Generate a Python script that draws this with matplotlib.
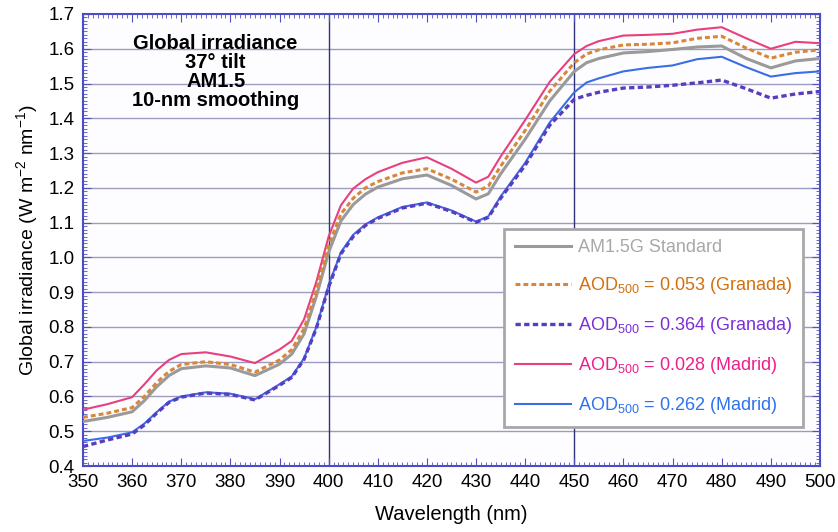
import matplotlib
matplotlib.use('Agg')
import matplotlib.pyplot as plt
from matplotlib.ticker import MultipleLocator

plt.rcParams['font.family'] = ['Liberation Sans', 'DejaVu Sans']
plt.rcParams['mathtext.fontset'] = 'custom'
plt.rcParams['mathtext.rm'] = 'Liberation Sans'
plt.rcParams['mathtext.it'] = 'Liberation Sans'

wavelength = [350, 355, 360, 362.5, 365, 367.5, 370, 375, 380, 385, 390, 392.5, 395, 397.5,
              400, 402.5, 405, 407.5, 410, 415, 420, 425, 430, 432.5, 435, 440, 445,
              450, 452.5, 455, 460, 465, 470, 475, 480, 485, 490, 495, 500]

am15g_standard = [0.528, 0.540, 0.556, 0.588, 0.628, 0.660, 0.680, 0.688, 0.682, 0.660, 0.693, 0.722, 0.780, 0.888,
                  1.015, 1.105, 1.152, 1.182, 1.202, 1.226, 1.237, 1.207, 1.168, 1.183, 1.240, 1.340, 1.450,
                  1.535, 1.560, 1.572, 1.588, 1.592, 1.598, 1.605, 1.608, 1.572, 1.545, 1.565, 1.572]
granada_053 = [0.540, 0.552, 0.568, 0.600, 0.640, 0.672, 0.692, 0.700, 0.692, 0.670, 0.705, 0.735, 0.795, 0.905,
               1.035, 1.125, 1.170, 1.200, 1.218, 1.243, 1.255, 1.225, 1.188, 1.205, 1.262, 1.365, 1.478,
               1.560, 1.585, 1.597, 1.611, 1.613, 1.617, 1.630, 1.636, 1.602, 1.573, 1.590, 1.597]
granada_364 = [0.456, 0.475, 0.492, 0.518, 0.552, 0.583, 0.598, 0.610, 0.606, 0.590, 0.632, 0.655, 0.707, 0.796,
               0.915, 1.010, 1.060, 1.092, 1.112, 1.142, 1.156, 1.132, 1.101, 1.115, 1.170, 1.265, 1.380,
               1.455, 1.466, 1.475, 1.487, 1.490, 1.495, 1.502, 1.510, 1.485, 1.458, 1.470, 1.477]
madrid_028 = [0.562, 0.578, 0.598, 0.635, 0.675, 0.705, 0.722, 0.727, 0.715, 0.696, 0.735, 0.760, 0.822, 0.930,
              1.060, 1.150, 1.198, 1.225, 1.245, 1.272, 1.288, 1.255, 1.215, 1.232, 1.290, 1.395, 1.505,
              1.585, 1.608, 1.622, 1.638, 1.640, 1.643, 1.655, 1.662, 1.630, 1.600, 1.620, 1.616]
madrid_262 = [0.472, 0.482, 0.497, 0.522, 0.555, 0.585, 0.600, 0.612, 0.608, 0.592, 0.635, 0.658, 0.710, 0.800,
              0.920, 1.015, 1.065, 1.095, 1.115, 1.145, 1.158, 1.135, 1.103, 1.118, 1.175, 1.272, 1.388,
              1.475, 1.503, 1.515, 1.535, 1.545, 1.552, 1.570, 1.577, 1.547, 1.520, 1.530, 1.535]

labels = ['AM1.5G Standard',
          'AOD$_{500}$ = 0.053 (Granada)',
          'AOD$_{500}$ = 0.364 (Granada)',
          'AOD$_{500}$ = 0.028 (Madrid)',
          'AOD$_{500}$ = 0.262 (Madrid)']
line_colors = ['#9a9a9a', '#d8863a', '#5a3cc0', '#e8407e', '#3a6ee6']
text_colors = ['#a8a8a8', '#d2700e', '#7a2fd8', '#ee1f8c', '#2f72ee']
dash = (0, (1.6, 1.0))

fig = plt.figure(figsize=(8.38, 5.32), dpi=100)
ax = fig.add_axes([0.099, 0.124, 0.8795, 0.8497])
ax.set_facecolor('#fdfdff')

for y in [0.5, 0.6, 0.7, 0.8, 0.9, 1.0, 1.1, 1.2, 1.3, 1.4, 1.5, 1.6]:
    ax.axhline(y, color='#9c9cc0', lw=1.0, zorder=1)
for x in [400, 450]:
    ax.axvline(x, color='#303078', lw=1.0, zorder=1)

ax.plot(wavelength, am15g_standard, color=line_colors[0], lw=2.2, label=labels[0], zorder=3)
ax.plot(wavelength, granada_053, color=line_colors[1], lw=2.2, ls=dash, label=labels[1], zorder=4)
ax.plot(wavelength, granada_364, color=line_colors[2], lw=2.4, ls=dash, label=labels[2], zorder=4)
ax.plot(wavelength, madrid_028, color=line_colors[3], lw=1.5, label=labels[3], zorder=3)
ax.plot(wavelength, madrid_262, color=line_colors[4], lw=1.5, label=labels[4], zorder=3)

ax.set_xlim(350, 500)
ax.set_ylim(0.4, 1.7)
ax.xaxis.set_major_locator(MultipleLocator(10))
ax.xaxis.set_minor_locator(MultipleLocator(1))
ax.yaxis.set_major_locator(MultipleLocator(0.1))
ax.yaxis.set_minor_locator(MultipleLocator(0.01))
ax.yaxis.set_major_formatter(plt.FormatStrFormatter('%.1f'))
ax.tick_params(which='both', direction='in', top=True, right=True, color='#5050c0')
ax.tick_params(which='major', length=6, labelsize=13.5, pad=6)
ax.tick_params(which='minor', length=3)
for sp in ax.spines.values():
    sp.set_color('#4c4cc8')
    sp.set_linewidth(1.5)

ax.set_xlabel('Wavelength (nm)', fontsize=14.5, labelpad=10)
ax.set_ylabel('Global irradiance (W m$^{-2}$ nm$^{-1}$)', fontsize=14, labelpad=6)

ax.text(377, 1.642, 'Global irradiance\n37\u00b0 tilt\nAM1.5\n10-nm smoothing',
        ha='center', va='top', fontsize=14.5, fontweight='bold', linespacing=1.0, zorder=5)

leg = ax.legend(loc='lower right', bbox_to_anchor=(0.977, 0.086), borderaxespad=0,
                fontsize=13, handlelength=3.1, handletextpad=0.4, labelspacing=1.05,
                frameon=True, fancybox=False, borderpad=0.6, framealpha=1)
leg.get_frame().set_edgecolor('#a8a8a8')
leg.get_frame().set_linewidth(2)
for txt, c in zip(leg.get_texts(), text_colors):
    txt.set_color(c)

fig.savefig('out.png', dpi=100)
